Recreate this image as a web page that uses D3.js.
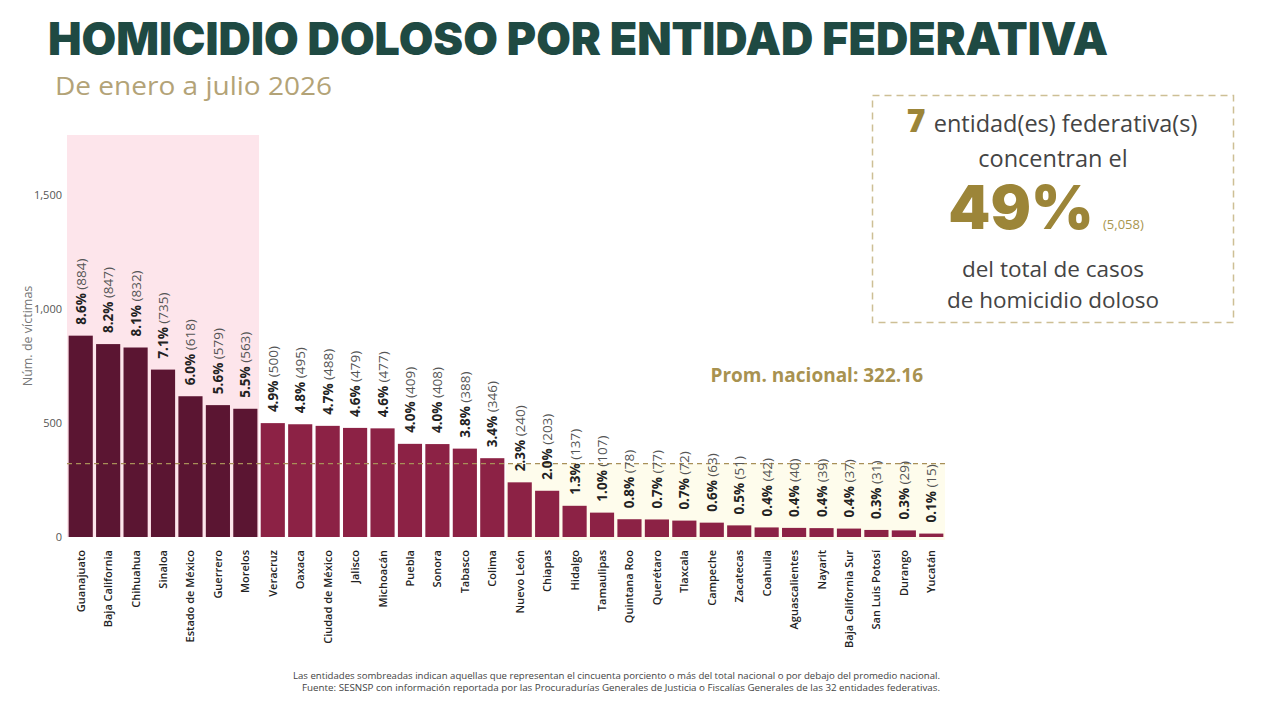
<!DOCTYPE html>
<html>
<head>
<meta charset="utf-8">
<script src="https://cdn.jsdelivr.net/npm/d3@7"></script>
<style>
  body { margin: 0; background: #fff; }
  svg { display: block; }
</style>
</head>
<body>
<div id="chart"></div>
<script>
// datos
var estados = ["Guanajuato", "Baja California", "Chihuahua", "Sinaloa", "Estado de México", "Guerrero", "Morelos",
  "Veracruz", "Oaxaca", "Ciudad de México", "Jalisco", "Michoacán", "Puebla", "Sonora", "Tabasco", "Colima",
  "Nuevo León", "Chiapas", "Hidalgo", "Tamaulipas", "Quintana Roo", "Querétaro", "Tlaxcala", "Campeche",
  "Zacatecas", "Coahuila", "Aguascalientes", "Nayarit", "Baja California Sur", "San Luis Potosí", "Durango", "Yucatán"];
var victimas = [884, 847, 832, 735, 618, 579, 563, 500, 495, 488, 479, 477, 409, 408, 388, 346,
  240, 203, 137, 107, 78, 77, 72, 63, 51, 42, 40, 39, 37, 31, 29, 15];
var porcentajes = ["8.6%", "8.2%", "8.1%", "7.1%", "6.0%", "5.6%", "5.5%", "4.9%", "4.8%", "4.7%", "4.6%", "4.6%",
  "4.0%", "4.0%", "3.8%", "3.4%", "2.3%", "2.0%", "1.3%", "1.0%", "0.8%", "0.7%", "0.7%", "0.6%", "0.5%",
  "0.4%", "0.4%", "0.4%", "0.4%", "0.3%", "0.3%", "0.1%"];
var yTicks = [0, 500, 1000, 1500];
var promedio = 322.16;
var nConcentran = 7;

var width = 1280, height = 701;

var svg = d3.select("#chart")
  .append("svg")
    .attr("width", width)
    .attr("height", height);

var x = d3.scaleBand()
  .domain(estados)
  .range([67, 945])
  .paddingInner(0.12)
  .paddingOuter(0.06);

var y = d3.scaleLinear()
  .domain([0, 1765])
  .range([537, 135]);

var step = x.step();
var bandLeft = function(i) { return x(estados[i]) - step * x.paddingInner() / 2; };

// zona rosa: entidades que concentran ~50%
svg.append("rect")
  .attr("x", 67)
  .attr("y", y(1765))
  .attr("width", bandLeft(nConcentran) - 67)
  .attr("height", y(0) - y(1765))
  .attr("fill", "#fde5eb");

// zona crema: por debajo del promedio
var primeroBajo = victimas.findIndex(function(v) { return v < promedio; });
svg.append("rect")
  .attr("x", bandLeft(primeroBajo))
  .attr("y", y(promedio))
  .attr("width", 945 - bandLeft(primeroBajo))
  .attr("height", y(0) - y(promedio) + 3)
  .attr("fill", "#fefcec");

// título y subtítulo
svg.append("text")
  .attr("x", 48)
  .attr("y", 55)
  .attr("font-family", "Inter, 'DejaVu Sans', sans-serif")
  .attr("font-weight", 900)
  .attr("font-size", 45)
  .attr("fill", "#1f4a43")
  .attr("textLength", 1060)
  .attr("lengthAdjust", "spacingAndGlyphs")
  .text("HOMICIDIO DOLOSO POR ENTIDAD FEDERATIVA");

svg.append("text")
  .attr("x", 55)
  .attr("y", 95)
  .attr("font-family", "'Open Sans', sans-serif")
  .attr("font-size", 26)
  .attr("fill", "#b3a377")
  .attr("textLength", 277)
  .attr("lengthAdjust", "spacingAndGlyphs")
  .text("De enero a julio 2026");

// eje y
var yAxis = svg.append("g")
  .attr("transform", "translate(62,0)")
  .call(d3.axisLeft(y).tickValues(yTicks).tickFormat(d3.format(",")).tickSize(0).tickPadding(0));
yAxis.select(".domain").remove();
yAxis.selectAll("text")
  .attr("font-family", "'Open Sans', sans-serif")
  .attr("font-size", 11)
  .attr("fill", "#555");

svg.append("text")
  .attr("transform", "translate(32,336) rotate(-90)")
  .attr("text-anchor", "middle")
  .attr("font-family", "'Open Sans', sans-serif")
  .attr("font-size", 12.5)
  .attr("fill", "#777")
  .text("Núm. de víctimas");

// barras
svg.selectAll(".bar")
  .data(victimas)
  .enter()
  .append("rect")
    .attr("class", "bar")
    .attr("x", function(d, i) { return x(estados[i]); })
    .attr("y", function(d) { return y(d); })
    .attr("width", x.bandwidth())
    .attr("height", function(d) { return y(0) - y(d); })
    .attr("fill", function(d, i) { return i < nConcentran ? "#5b1532" : "#8c2245"; });

// línea de promedio
svg.append("line")
  .attr("x1", 67)
  .attr("x2", 945)
  .attr("y1", y(promedio))
  .attr("y2", y(promedio))
  .attr("stroke", "#a89058")
  .attr("stroke-width", 1.2)
  .attr("stroke-dasharray", "5,4");

svg.append("text")
  .attr("x", 923)
  .attr("y", 382)
  .attr("text-anchor", "end")
  .attr("font-family", "'Open Sans', sans-serif")
  .attr("font-weight", 700)
  .attr("font-size", 19)
  .attr("fill", "#a89250")
  .text("Prom. nacional: " + promedio);

// etiquetas de valor
var etiquetas = svg.selectAll(".val")
  .data(victimas)
  .enter()
  .append("text")
    .attr("class", "val")
    .attr("transform", function(d, i) {
      return "translate(" + (x(estados[i]) + x.bandwidth() / 2 + 5) + "," + (y(d) - 11) + ") rotate(-90)";
    })
    .attr("font-family", "'Open Sans', sans-serif")
    .attr("font-size", 13.5);
etiquetas.append("tspan")
  .attr("font-weight", 700)
  .attr("fill", "#222")
  .text(function(d, i) { return porcentajes[i] + " "; });
etiquetas.append("tspan")
  .attr("fill", "#555")
  .text(function(d) { return "(" + d + ")"; });

// etiquetas de categoría
svg.selectAll(".cat")
  .data(estados)
  .enter()
  .append("text")
    .attr("class", "cat")
    .attr("transform", function(d) {
      return "translate(" + (x(d) + x.bandwidth() / 2 + 4) + ",550) rotate(-90)";
    })
    .attr("text-anchor", "end")
    .attr("font-family", "'Open Sans', sans-serif")
    .attr("font-weight", 600)
    .attr("font-size", 11)
    .attr("fill", "#222")
    .text(function(d) { return d; });

// recuadro
svg.append("rect")
  .attr("x", 872.5)
  .attr("y", 95.5)
  .attr("width", 361)
  .attr("height", 227)
  .attr("fill", "none")
  .attr("stroke", "#cdbf95")
  .attr("stroke-width", 1.5)
  .attr("stroke-dasharray", "7,5");

var linea1 = svg.append("text")
  .attr("x", 1052)
  .attr("y", 132)
  .attr("text-anchor", "middle")
  .attr("font-family", "'Open Sans', sans-serif")
  .attr("font-size", 23.5)
  .attr("fill", "#444");
linea1.append("tspan")
  .attr("font-weight", 800)
  .attr("font-size", 32)
  .attr("fill", "#9c8538")
  .text(nConcentran + " ");
linea1.append("tspan").text("entidad(es) federativa(s)");

svg.append("text")
  .attr("x", 1053)
  .attr("y", 167)
  .attr("text-anchor", "middle")
  .attr("font-family", "'Open Sans', sans-serif")
  .attr("font-size", 23.5)
  .attr("fill", "#444")
  .text("concentran el");

svg.append("text")
  .attr("x", 1021)
  .attr("y", 229)
  .attr("text-anchor", "middle")
  .attr("font-family", "Inter, 'DejaVu Sans', sans-serif")
  .attr("font-weight", 900)
  .attr("font-size", 60)
  .attr("fill", "#9c8538")
  .text("49%");

svg.append("text")
  .attr("x", 1103)
  .attr("y", 229)
  .attr("font-family", "'Open Sans', sans-serif")
  .attr("font-size", 13)
  .attr("fill", "#a8964f")
  .text("(5,058)");

svg.append("text")
  .attr("x", 1053)
  .attr("y", 277)
  .attr("text-anchor", "middle")
  .attr("font-family", "'Open Sans', sans-serif")
  .attr("font-size", 22.5)
  .attr("fill", "#444")
  .text("del total de casos");

svg.append("text")
  .attr("x", 1053)
  .attr("y", 308)
  .attr("text-anchor", "middle")
  .attr("font-family", "'Open Sans', sans-serif")
  .attr("font-size", 22.5)
  .attr("fill", "#444")
  .text("de homicidio doloso");

// nota al pie
svg.append("text")
  .attr("x", 940)
  .attr("y", 679)
  .attr("text-anchor", "end")
  .attr("font-family", "'Open Sans', sans-serif")
  .attr("font-size", 8.5)
  .attr("fill", "#444")
  .attr("textLength", 647)
  .attr("lengthAdjust", "spacingAndGlyphs")
  .text("Las entidades sombreadas indican aquellas que representan el cincuenta porciento o más del total nacional o por debajo del promedio nacional.");

svg.append("text")
  .attr("x", 940)
  .attr("y", 691)
  .attr("text-anchor", "end")
  .attr("font-family", "'Open Sans', sans-serif")
  .attr("font-size", 8.5)
  .attr("fill", "#444")
  .attr("textLength", 638)
  .attr("lengthAdjust", "spacingAndGlyphs")
  .text("Fuente: SESNSP con información reportada por las Procuradurías Generales de Justicia o Fiscalías Generales de las 32 entidades federativas.");
</script>
</body>
</html>
